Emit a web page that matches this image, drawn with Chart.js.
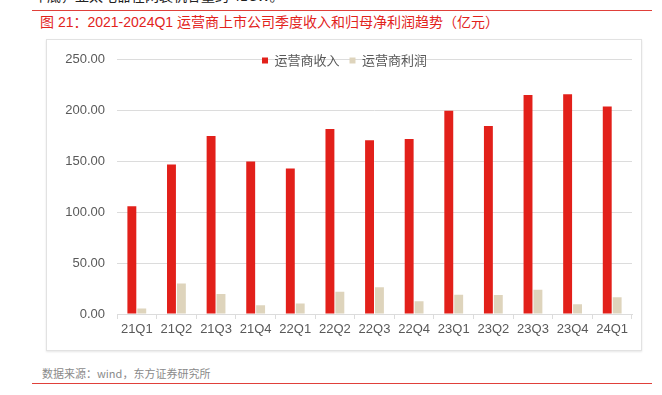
<!DOCTYPE html>
<html lang="zh">
<head>
    <meta charset="UTF-8">
    <title>运营商季度收入和归母净利润</title>
    <style>
        body {
            margin: 0;
            width: 662px;
            height: 395px;
            background: #fff;
            position: relative;
            overflow: hidden;
            font-family: "Liberation Sans", "Noto Sans CJK SC", sans-serif;
        }
        .topText {
            position: absolute;
            left: 33px;
            top: -15px;
            font-size: 14px;
            color: #222;
            font-family: "Noto Sans CJK SC", sans-serif;
        }
        .line {
            position: absolute;
            left: 32px;
            width: 620px;
            height: 1px;
            background: #e0403a;
        }
        .title {
            position: absolute;
            left: 40px;
            top: 11px;
            font-size: 14px;
            color: #e2231c;
            font-family: "Liberation Sans", "Noto Sans CJK SC", sans-serif;
        }
        .box {
            position: absolute;
            left: 46px;
            top: 39px;
            width: 594px;
            height: 310px;
            border: 1px solid #e2e2e2;
            box-shadow: 0 1px 2px rgba(0, 0, 0, 0.1);
        }
        .source {
            position: absolute;
            left: 42px;
            top: 365px;
            font-size: 11px;
            color: #8a8a8a;
            font-family: "Noto Sans CJK SC", sans-serif;
        }
    </style>
</head>
<body>
    <div class="topText">年底，亚太电器在网装机容量约 41GW。</div>
    <div class="line" style="top: 10px;"></div>
    <div class="title">图 21：2021-2024Q1 运营商上市公司季度收入和归母净利润趋势（亿元）</div>
    <div class="box">
        <canvas id="myChart" width="594" height="310"></canvas>
    </div>
    <div class="source">数据来源：wind，东方证券研究所</div>
    <div class="line" style="top: 383px;"></div>

<script src="https://cdn.jsdelivr.net/npm/chart.js"></script>
<script>
    // данные с картинки
    var quarters = ['21Q1', '21Q2', '21Q3', '21Q4', '22Q1', '22Q2', '22Q3', '22Q4', '23Q1', '23Q2', '23Q3', '23Q4', '24Q1'];
    var revenue = [106, 147, 175, 150, 143, 182, 171, 172, 200, 185, 215.5, 216, 204];
    var profit = [5.5, 30, 19.6, 8.7, 10.3, 22, 26.4, 12.5, 19, 18.6, 23.8, 9.6, 16.4];
    var yTicks = [0, 50, 100, 150, 200, 250];

    var textColor = '#595959';
    var gridColor = '#dcdcdc';

    // легенда лежит поверх области графика, как на оригинале
    var legendShift = {
        id: 'legendShift',
        afterLayout: function (chart) {
            var lg = chart.legend;
            lg.left = 205;
            lg.right = 580;
            lg.top = 4;
            lg.bottom = 40;
        }
    };

    var ctx = document.getElementById('myChart').getContext('2d');
    var myChart = new Chart(ctx, {
        type: 'bar',
        data: {
            labels: quarters,
            datasets: [{
                label: '运营商收入',
                data: revenue,
                backgroundColor: '#e2201a',
                categoryPercentage: 0.5,
                barPercentage: 0.9
            }, {
                label: '运营商利润',
                data: profit,
                backgroundColor: '#ded4bc',
                categoryPercentage: 0.5,
                barPercentage: 0.9
            }]
        },
        options: {
            responsive: false,
            animation: false,
            layout: {
                padding: { left: 0, top: 14, right: 9, bottom: 0 }
            },
            plugins: {
                legend: {
                    position: 'top',
                    align: 'start',
                    maxHeight: 1,
                    labels: {
                        boxWidth: 6,
                        boxHeight: 6,
                        padding: 10,
                        color: textColor,
                        font: { size: 13, family: '"Noto Sans CJK SC", sans-serif' }
                    }
                },
                tooltip: { enabled: false }
            },
            scales: {
                x: {
                    grid: {
                        offset: true,
                        drawOnChartArea: false,
                        tickLength: 5,
                        color: gridColor
                    },
                    border: { color: gridColor },
                    ticks: {
                        color: textColor,
                        padding: 3,
                        font: { size: 13, family: '"Liberation Sans", sans-serif' }
                    },
                    afterFit: function (scale) { scale.height = 36; }
                },
                y: {
                    min: 0,
                    max: 250,
                    afterBuildTicks: function (scale) {
                        scale.ticks = yTicks.map(function (v) { return { value: v }; });
                    },
                    grid: { color: gridColor, drawTicks: false },
                    border: { display: false },
                    ticks: {
                        color: textColor,
                        padding: 12,
                        font: { size: 13, family: '"Liberation Sans", sans-serif' },
                        callback: function (v) { return v.toFixed(2); }
                    },
                    afterFit: function (scale) { scale.width = 70; }
                }
            }
        },
        plugins: [legendShift]
    });
</script>
</body>
</html>
